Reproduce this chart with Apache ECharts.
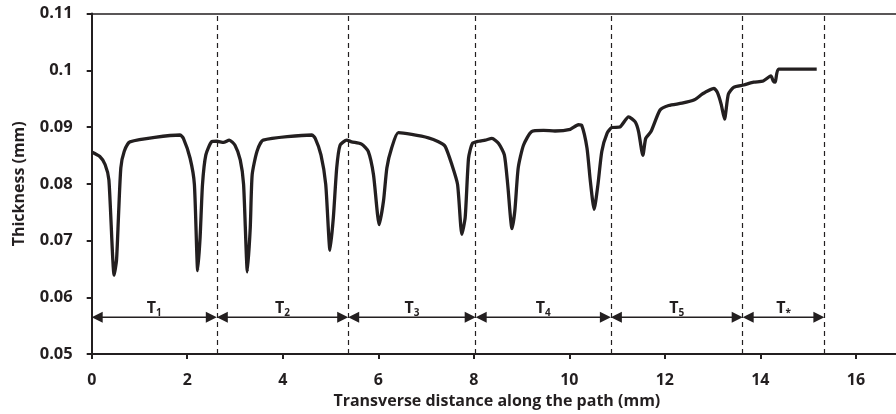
<!DOCTYPE html>
<html>
<head>
<meta charset="utf-8">
<script src="https://cdn.jsdelivr.net/npm/echarts@6/dist/echarts.min.js"></script>
<style>
  html, body { margin: 0; padding: 0; background: #fff; }
  #chart { width: 896px; height: 414px; }
</style>
</head>
<body>
<div id="chart"></div>
<script>
// Film thickness measured along the transverse path (mm vs mm)
const distance = [
  0.00, 0.17, 0.28, 0.36, 0.47, 0.52, 0.56, 0.61, 0.68, 0.80,
  1.85, 1.92, 2.06, 2.15, 2.22, 2.27, 2.32, 2.39, 2.51, 2.62, 2.76, 2.88,
  3.00, 3.11, 3.18, 3.26, 3.32, 3.36, 3.46, 3.59,
  4.61, 4.68, 4.80, 4.90, 4.99, 5.06, 5.13, 5.20, 5.34, 5.44, 5.65, 5.79, 5.90,
  6.02, 6.11, 6.18, 6.28, 6.42, 6.70, 7.05, 7.26, 7.40, 7.54, 7.66,
  7.75, 7.82, 7.89, 7.97, 8.10, 8.24, 8.38, 8.52, 8.64, 8.71,
  8.80, 8.86, 8.93, 9.04, 9.21, 9.46, 9.70, 10.02, 10.19, 10.26, 10.37, 10.44,
  10.52, 10.60, 10.68, 10.79, 10.89, 11.06, 11.24, 11.38, 11.45,
  11.54, 11.60, 11.71, 11.90, 12.08, 12.36, 12.62, 12.78, 12.84, 13.03, 13.10, 13.18,
  13.25, 13.33, 13.44, 13.65, 13.86, 14.06, 14.22, 14.27, 14.31, 14.38, 15.18
];
const thickness = [
  0.0856, 0.0848, 0.0834, 0.0807, 0.0639, 0.0666, 0.0741, 0.0828, 0.0857, 0.0874,
  0.0886, 0.0880, 0.0845, 0.0799, 0.0647, 0.0706, 0.0799, 0.0851, 0.0874, 0.0875, 0.0873, 0.0877,
  0.0868, 0.0842, 0.0799, 0.0645, 0.0723, 0.0816, 0.0857, 0.0877,
  0.0886, 0.0880, 0.0851, 0.0799, 0.0683, 0.0741, 0.0828, 0.0868, 0.0877, 0.0874, 0.0870, 0.0857, 0.0816,
  0.0728, 0.0770, 0.0828, 0.0863, 0.0890, 0.0887, 0.0881, 0.0874, 0.0866, 0.0834, 0.0799,
  0.0711, 0.0741, 0.0845, 0.0871, 0.0875, 0.0877, 0.0880, 0.0871, 0.0851, 0.0799,
  0.0721, 0.0753, 0.0828, 0.0868, 0.0892, 0.0894, 0.0893, 0.0896, 0.0904, 0.0903, 0.0863, 0.0805,
  0.0755, 0.0799, 0.0857, 0.0889, 0.0899, 0.0900, 0.0918, 0.0909, 0.0892,
  0.0850, 0.0880, 0.0892, 0.0930, 0.0938, 0.0942, 0.0948, 0.0958, 0.0961, 0.0968, 0.0961, 0.0940,
  0.0914, 0.0958, 0.0970, 0.0974, 0.0979, 0.0981, 0.0990, 0.0981, 0.0979, 0.1002, 0.1002
];

// Pass boundaries along the path and their labels
const passEdges = [0, 2.62, 5.37, 8.04, 10.87, 13.63, 15.34];
const passNames = ['1', '2', '3', '4', '5', '*'];
const arrowLevel = 0.0565;

const yTicks = [0.05, 0.06, 0.07, 0.08, 0.09, 0.1, 0.11];
const xTicks = [0, 2, 4, 6, 8, 10, 12, 14, 16];
const xMax = 16.84;

const ink = '#231f20';
const font = 'Open Sans';

const dashedLines = passEdges.slice(1).map(v => ({ xAxis: v }));
const spans = passNames.map((name, i) => [passEdges[i], passEdges[i + 1], arrowLevel]);

// Double-headed arrow with the pass name above it
function renderSpan(params, api) {
  const a = api.coord([api.value(0), api.value(2)]);
  const b = api.coord([api.value(1), api.value(2)]);
  const len = 11, half = 5.5;
  const name = passNames[params.dataIndex];
  return {
    type: 'group',
    children: [
      { type: 'line', shape: { x1: a[0] + 4, y1: a[1], x2: b[0] - 4, y2: b[1] },
        style: { stroke: ink, lineWidth: 1.5 } },
      { type: 'polygon', shape: { points: [[a[0], a[1]], [a[0] + len, a[1] - half], [a[0] + len, a[1] + half]] },
        style: { fill: ink } },
      { type: 'polygon', shape: { points: [[b[0], b[1]], [b[0] - len, b[1] - half], [b[0] - len, b[1] + half]] },
        style: { fill: ink } },
      { type: 'text',
        style: {
          x: (a[0] + b[0]) / 2, y: a[1] - 9,
          text: '{t|T}{s|' + name + '}',
          align: 'center', verticalAlign: 'middle',
          rich: {
            t: { fontFamily: font, fontWeight: 'bold', fontSize: 16, fill: ink, color: ink },
            s: { fontFamily: font, fontWeight: 'bold', fontSize: 10, fill: ink, color: ink, padding: [10, 0, 0, 0] }
          }
        } }
    ]
  };
}

const chart = echarts.init(document.getElementById('chart'), null, { renderer: 'canvas' });

chart.setOption({
  animation: false,
  backgroundColor: '#ffffff',
  grid: { left: 91.7, top: 13.5, right: 0, bottom: 55.5, containLabel: false },
  xAxis: [
    {
      type: 'value',
      min: 0,
      max: xMax,
      interval: 2,
      name: 'Transverse distance along the path (mm)',
      nameLocation: 'middle',
      nameGap: 37,
      nameTextStyle: { fontFamily: font, fontWeight: 'bold', fontSize: 16, color: ink, padding: [0, 0, 0, 6] },
      axisLine: { show: true, lineStyle: { color: ink, width: 2 } },
      axisTick: { show: true, inside: false, length: 5, lineStyle: { color: ink, width: 2 } },
      axisLabel: {
        fontFamily: font, fontWeight: 'bold', fontSize: 16, color: ink, margin: 18,
        showMaxLabel: false,
        formatter: v => (xTicks.indexOf(v) >= 0 ? String(v) : '')
      },
      splitLine: { show: false }
    },
    {
      type: 'value',
      position: 'top',
      min: 0,
      max: xMax,
      axisLine: { show: true, onZero: false, lineStyle: { color: ink, width: 1.5 } },
      axisTick: { show: false },
      axisLabel: { show: false },
      splitLine: { show: false }
    }
  ],
  yAxis: {
    type: 'value',
    min: 0.05,
    max: 0.11,
    interval: 0.01,
    name: 'Thickness (mm)',
    nameLocation: 'middle',
    nameGap: 64,
    nameRotate: 90,
    nameTextStyle: { fontFamily: font, fontWeight: 'bold', fontSize: 16, color: ink },
    axisLine: { show: true, lineStyle: { color: ink, width: 2 } },
    axisTick: { show: true, length: 5, lineStyle: { color: ink, width: 2 } },
    axisLabel: {
      fontFamily: font, fontWeight: 'bold', fontSize: 16.5, color: ink, margin: 19,
      formatter: v => {
        const r = Math.round(v * 1000) / 1000;
        return yTicks.some(t => Math.abs(t - r) < 1e-9) ? String(r) : '';
      }
    },
    splitLine: { show: false }
  },
  series: [
    {
      type: 'line',
      data: distance.map((d, i) => [d, thickness[i]]),
      showSymbol: false,
      smooth: 0.2,
      lineStyle: { color: ink, width: 3.3 },
      z: 3,
      markLine: {
        silent: true,
        symbol: ['none', 'none'],
        label: { show: false },
        lineStyle: { color: ink, width: 1.2, type: [5, 4] },
        data: dashedLines,
        animation: false
      }
    },
    {
      type: 'custom',
      data: spans,
      encode: { x: [0, 1], y: 2 },
      renderItem: renderSpan,
      clip: false,
      silent: true,
      z: 4
    }
  ]
});
</script>
</body>
</html>
